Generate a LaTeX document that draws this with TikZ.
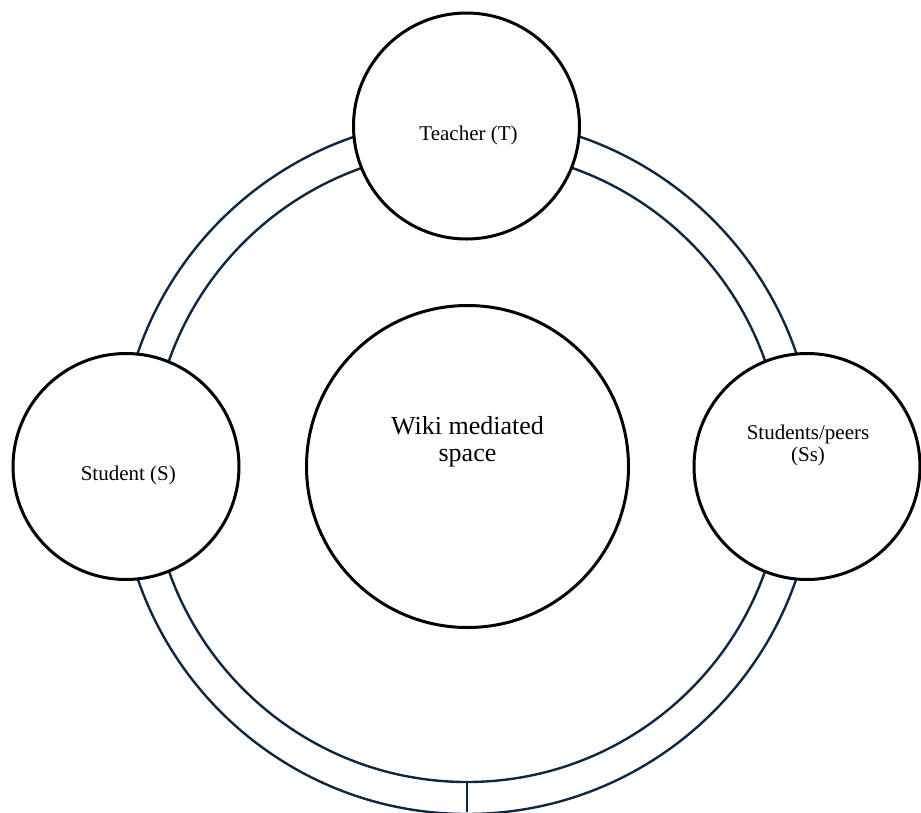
\documentclass[tikz,border=0pt]{standalone}
\usepackage{fontspec}
\setmainfont{Liberation Serif}
\definecolor{ringnavy}{HTML}{0E2841}
\begin{document}
\begin{tikzpicture}[x=1pt,y=-1pt,
  ringline/.style={draw=ringnavy,line width=2.4pt},
  actor/.style={circle,draw=black,fill=white,line width=3pt,minimum size=226pt,inner sep=0pt},
  space/.style={circle,draw=black,fill=white,line width=3pt,minimum size=322pt,inner sep=0pt},
  lab/.style={anchor=base,align=center,font=\fontsize{21}{22}\selectfont},
  biglab/.style={anchor=base,align=center,font=\fontsize{26}{27}\selectfont}]
\useasboundingbox (0,0) rectangle (921,812);
\fill[white] (0,0) rectangle (921,812);
% ring
\coordinate (C) at (467,466);
\draw[ringline] (C) circle[radius=348];
\draw[ringline] (C) circle[radius=316];
\coordinate (ringbottom) at (467,782);
\coordinate (down) at (467,812);
\draw[ringline] (ringbottom) -- (down);
% nodes
\node[space] (W) at (467.5,466.5) {};
\node[actor] (T) at (466.5,126) {};
\node[actor] (S) at (126,466.5) {};
\node[actor] (P) at (807,466.5) {};
% texts
\node[biglab] (Wt) at (467.5,461.5) {Wiki mediated\\space};
\node[lab] (Tt) at (468.5,140.7) {Teacher (T)};
\node[lab] (St) at (128.3,480.7) {Student (S)};
\node[lab] (Pt) at (808,461.7) {Students/peers\\(Ss)};
\end{tikzpicture}
\end{document}
